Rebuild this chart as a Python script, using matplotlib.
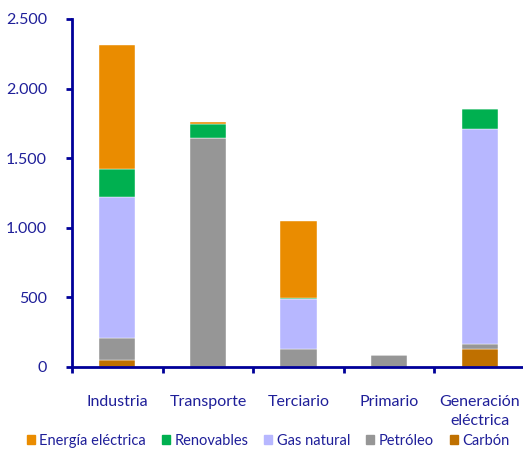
import numpy as np
import matplotlib
matplotlib.use("Agg")
import matplotlib.pyplot as plt
from matplotlib.patches import Patch
from matplotlib.ticker import FuncFormatter

plt.rcParams['font.family'] = ['Lato', 'DejaVu Sans']

categorias = ["Industria", "Transporte", "Terciario", "Primario", "Generación\neléctrica"]
carbon = [52, 0, 0, 0, 127]
petroleo = [156, 1646, 131, 84, 38]
gas_natural = [1013, 0, 355, 0, 1546]
renovables = [198, 99, 9, 0, 146]
energia_electrica = [893, 16, 553, 3, 0]

series = [
    ("Carbón", carbon, "#BF7000"),
    ("Petróleo", petroleo, "#969696"),
    ("Gas natural", gas_natural, "#B7B7FF"),
    ("Renovables", renovables, "#00B050"),
    ("Energía eléctrica", energia_electrica, "#EA8C00"),
]

txt = "#1F1F99"
axc = "#000099"

fig = plt.figure(figsize=(5.23, 4.49), dpi=100)
ax = fig.add_axes([72 / 523, 82 / 449, 453 / 523, 348 / 449])

x = np.arange(len(categorias))
bottom = np.zeros(len(categorias))
for name, vals, col in series:
    vals = np.array(vals, dtype=float)
    ax.bar(x, vals, 0.4, bottom=bottom, color=col, edgecolor="white", linewidth=0.3)
    bottom += vals

ax.set_xlim(-0.5, 4.5)
ax.set_ylim(0, 2500)
ax.set_yticks([0, 500, 1000, 1500, 2000, 2500])
ax.yaxis.set_major_formatter(FuncFormatter(lambda v, p: f"{int(v):,}".replace(",", ".")))

ax.set_xticks(x)
ax.set_xticklabels(categorias, linespacing=1.45)
ax.set_xticks(np.arange(-0.5, 5, 1), minor=True)
ax.tick_params(axis="x", which="major", length=0, pad=20, labelsize=11.5, labelcolor=txt)
ax.tick_params(axis="x", which="minor", length=4, width=2, color=axc, direction="out")
ax.tick_params(axis="y", length=4, width=2, color=axc, pad=14, labelsize=11.5, labelcolor=txt)

for s in ["top", "right"]:
    ax.spines[s].set_visible(False)
for s in ["left", "bottom"]:
    ax.spines[s].set_color(axc)
    ax.spines[s].set_linewidth(2)

handles = [Patch(color=col, label=name) for name, vals, col in series[::-1]]
leg = fig.legend(handles=handles, loc="center", bbox_to_anchor=(268 / 523, 8 / 449), ncol=5,
                 frameon=False, fontsize=10.5, handlelength=0.55, handleheight=0.55,
                 handletextpad=0.3, columnspacing=1.1, borderpad=0)
for t in leg.get_texts():
    t.set_color(txt)

fig.savefig("out.png", dpi=100)
